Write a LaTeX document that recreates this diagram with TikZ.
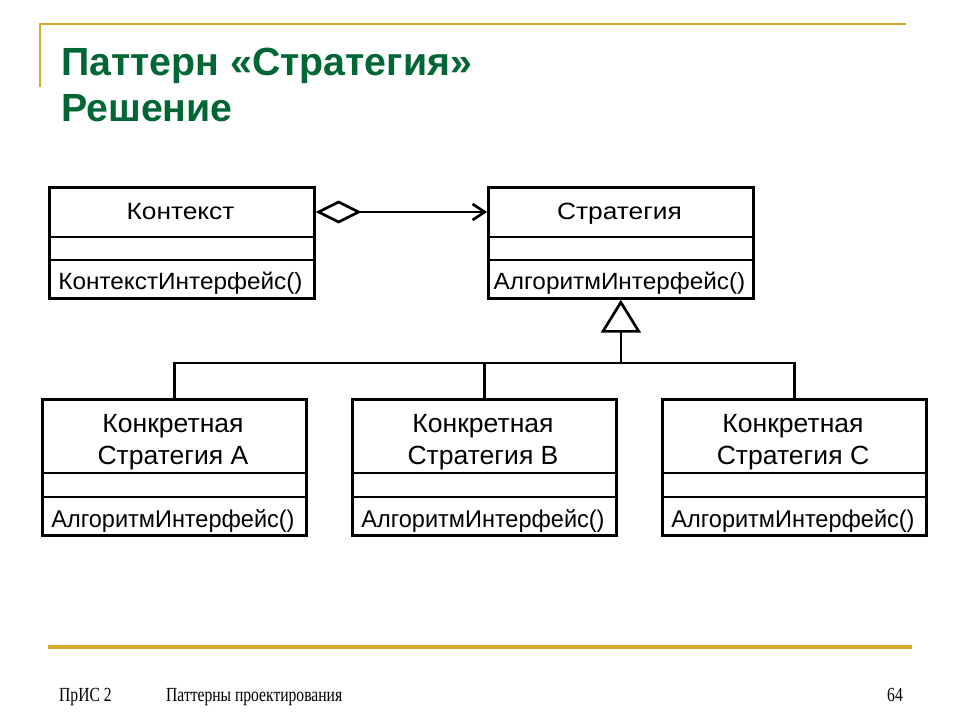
\documentclass[tikz,border=0pt]{standalone}
\usepackage{fontspec}
\setmainfont{Liberation Sans}
\newfontfamily\footfont{Liberation Serif}
\usetikzlibrary{arrows.meta}
\definecolor{gold}{RGB}{214,170,46}
\definecolor{titlegreen}{RGB}{0,102,51}
\newcommand{\tophead}[1]{\scalebox{1.12}[1.0]{#1}}
\newcommand{\topop}[1]{\scalebox{1.035}[1.0]{#1}}
\newcommand{\bothead}[1]{\scalebox{1.13}[1.12]{#1}}
\newcommand{\botop}[1]{\scalebox{1.0}[1.03]{#1}}
\begin{document}
\begin{tikzpicture}[x=1pt,y=-1pt,
  classbox/.style={draw=black, line width=2.7pt, inner sep=0pt, minimum width=265pt, anchor=north west},
  lbl/.style={font=\fontsize{23.5}{28}\selectfont, inner sep=0pt, anchor=base},
  conn/.style={line width=2.7pt},
  divider/.style={line width=2.7pt},
  titletext/.style={font=\fontsize{39.3}{46}\selectfont\bfseries, text=titlegreen, inner sep=0pt, anchor=base west},
  foottext/.style={font=\fontsize{20}{24}\footfont, inner sep=0pt},
]
\fill[white] (0,0) rectangle (960,720);
\useasboundingbox (0,0) rectangle (960,720);

% decorations
\draw[gold, line width=2pt] (39,24) -- (906,24);
\draw[gold, line width=2pt] (40,24) -- (40,87);
\draw[gold, line width=3.5pt] (48,647) -- (912,647);

% title
\node[titletext] (t1) at (61,75) {Паттерн «Стратегия»};
\node[titletext] (t2) at (61,121) {Решение};

% footer
\node[foottext, anchor=base west] (f1) at (59,701) {\scalebox{0.78}[1]{ПрИС 2}};
\node[foottext, anchor=base west] (f2) at (166,701) {\scalebox{0.78}[1]{Паттерны проектирования}};
\node[foottext, anchor=base east] (f3) at (903,701) {\scalebox{0.78}[1]{64}};

% Context
\node[classbox, minimum height=111pt] (ctx) at (48,186) {};
\draw[divider] (48,237) -- (313,237);
\draw[divider] (48,260) -- (313,260);
\node[lbl] (ctxname) at (180.5,219) {\tophead{Контекст}};
\node[lbl] (ctxop) at (180.5,289) {\topop{КонтекстИнтерфейс()}};

% Strategy
\node[classbox, minimum height=111pt] (strat) at (487,186) {};
\draw[divider] (487,237) -- (752,237);
\draw[divider] (487,260) -- (752,260);
\node[lbl] (stratname) at (619.5,219) {\tophead{Стратегия}};
\node[lbl] (stratop) at (619.5,289) {\topop{АлгоритмИнтерфейс()}};

% Concrete strategies
\node[classbox, minimum width=264pt, minimum height=136pt] (ca) at (41,398) {};
\draw[divider] (41,473) -- (305,473);
\draw[divider] (41,497) -- (305,497);
\node[lbl] (ca1) at (173,432) {\bothead{Конкретная}};
\node[lbl] (ca2) at (173,464) {\bothead{Стратегия A}};
\node[lbl] (caop) at (173,527) {\botop{АлгоритмИнтерфейс()}};

\node[classbox, minimum width=264pt, minimum height=136pt] (cb) at (351,398) {};
\draw[divider] (351,473) -- (615,473);
\draw[divider] (351,497) -- (615,497);
\node[lbl] (cb1) at (483,432) {\bothead{Конкретная}};
\node[lbl] (cb2) at (483,464) {\bothead{Стратегия B}};
\node[lbl] (cbop) at (483,527) {\botop{АлгоритмИнтерфейс()}};

\node[classbox, minimum width=264pt, minimum height=136pt] (cc) at (661,398) {};
\draw[divider] (661,473) -- (925,473);
\draw[divider] (661,497) -- (925,497);
\node[lbl] (cc1) at (793,432) {\bothead{Конкретная}};
\node[lbl] (cc2) at (793,464) {\bothead{Стратегия C}};
\node[lbl] (ccop) at (793,527) {\botop{АлгоритмИнтерфейс()}};

% aggregation
\coordinate (aggs) at (ctx.east |- 0,212);
\coordinate (agge) at (strat.west |- 0,212);
\draw[conn, {Diamond[open,length=46pt,width=23pt]}-{Straight Barb[length=12pt,width=16pt]}] (aggs) -- (agge);

% generalization
\coordinate (j) at (strat.south |- 0,363);
\draw[conn] (ca.north) -- (ca.north |- j) -- (cc.north |- j) -- (cc.north);
\draw[conn] (cb.north) -- (cb.north |- j);
\draw[conn, -{Triangle[open,length=33pt,width=40pt]}] (j) -- (strat.south);
\end{tikzpicture}
\end{document}
